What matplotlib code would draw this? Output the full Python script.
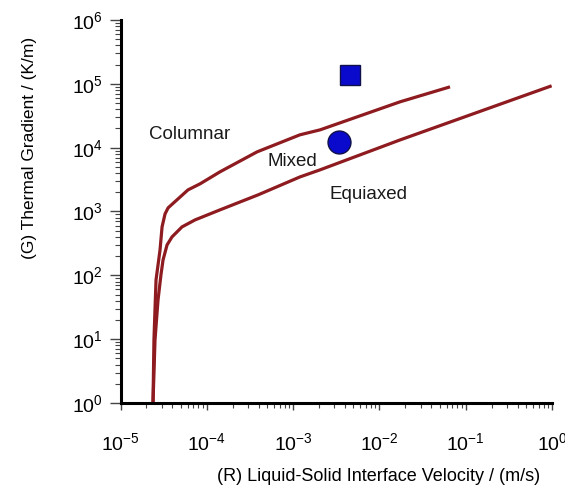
import matplotlib
matplotlib.use("Agg")
import matplotlib.pyplot as plt
from matplotlib.ticker import LogLocator, NullFormatter

plt.rcParams['font.family'] = ['Liberation Sans', 'DejaVu Sans']

# Columnar / Mixed boundary
upper_R = [2.38e-5, 2.44e-5, 2.58e-5, 2.87e-5, 3.03e-5, 3.28e-5, 3.56e-5, 6.05e-5,
           8.34e-5, 1.42e-4, 3.82e-4, 1.20e-3, 2.05e-3, 1.73e-2, 6.58e-2]
upper_G = [1, 9.7, 85, 250, 574, 916, 1140, 2180, 2710, 4180, 8590, 1.59e4, 1.90e4,
           5.22e4, 8.97e4]
# Mixed / Equiaxed boundary
lower_R = [2.38e-5, 2.51e-5, 2.72e-5, 2.94e-5, 3.11e-5, 3.46e-5, 3.95e-5, 5.16e-5,
           7.30e-5, 1.42e-4, 3.92e-4, 1.20e-3, 2.05e-3, 1.73e-2, 0.99]
lower_G = [1, 9.7, 41, 101, 174, 299, 400, 574, 738, 1060, 1820, 3480, 4490,
           1.32e4, 9.31e4]

square_R, square_G = [4.56e-3], [1.39e5]
circle_R, circle_G = [3.40e-3], [1.24e4]

region_labels = ["Columnar", "Mixed", "Equiaxed"]
region_R = [6.4e-5, 9.7e-4, 7.4e-3]
region_G = [1.59e4, 6.0e3, 1.82e3]

fig = plt.figure(figsize=(5.65, 4.88), dpi=100)
ax = fig.add_axes([0.2133, 0.1742, 0.7637, 0.7848])

line_kw = dict(color='#8e1b1f', lw=2.3, solid_capstyle='butt')
ax.plot(upper_R, upper_G, **line_kw)
ax.plot(lower_R, lower_G, **line_kw)

ax.plot(square_R, square_G, marker='s', ms=14, color='#0a0acc', mec='#10104a', mew=1.0, ls='none')
ax.plot(circle_R, circle_G, marker='o', ms=16.5, color='#0a0acc', mec='#10104a', mew=1.0, ls='none')

for lab, r, g in zip(region_labels, region_R, region_G):
    ax.text(r, g, lab, ha='center', va='center', fontsize=13.5, color='#1a1a1a')

ax.set_xscale('log')
ax.set_yscale('log')
ax.set_xlim(1e-5, 1e0)
ax.set_ylim(1e0, 1e6)

for s in ['top', 'right']:
    ax.spines[s].set_visible(False)
for s in ['left', 'bottom']:
    ax.spines[s].set_linewidth(2.2)

ax.xaxis.set_major_locator(LogLocator(base=10, numticks=10))
ax.yaxis.set_major_locator(LogLocator(base=10, numticks=10))
ax.xaxis.set_minor_locator(LogLocator(base=10, subs=range(2, 10), numticks=20))
ax.yaxis.set_minor_locator(LogLocator(base=10, subs=range(2, 10), numticks=20))
ax.xaxis.set_minor_formatter(NullFormatter())
ax.yaxis.set_minor_formatter(NullFormatter())

ax.tick_params(axis='y', which='major', direction='out', length=8, width=1.0,
               labelsize=14, pad=4.5, color='#444444')
ax.tick_params(axis='y', which='minor', direction='out', length=4, width=0.8, color='#444444')
ax.tick_params(axis='x', which='major', direction='out', length=5, width=1.0,
               labelsize=14, pad=16, color='#444444')
ax.tick_params(axis='x', which='minor', direction='out', length=3.5, width=0.8, color='#444444')

ax.set_xlabel('(R) Liquid-Solid Interface Velocity / (m/s)', fontsize=13)
ax.set_ylabel('(G) Thermal Gradient / (K/m)', fontsize=12.5)
ax.xaxis.set_label_coords(0.599, -0.193)
ax.xaxis.label.set_verticalalignment('center')
ax.yaxis.set_label_coords(-0.1935, 0.666)

fig.savefig('out.png', dpi=100, facecolor='white')
